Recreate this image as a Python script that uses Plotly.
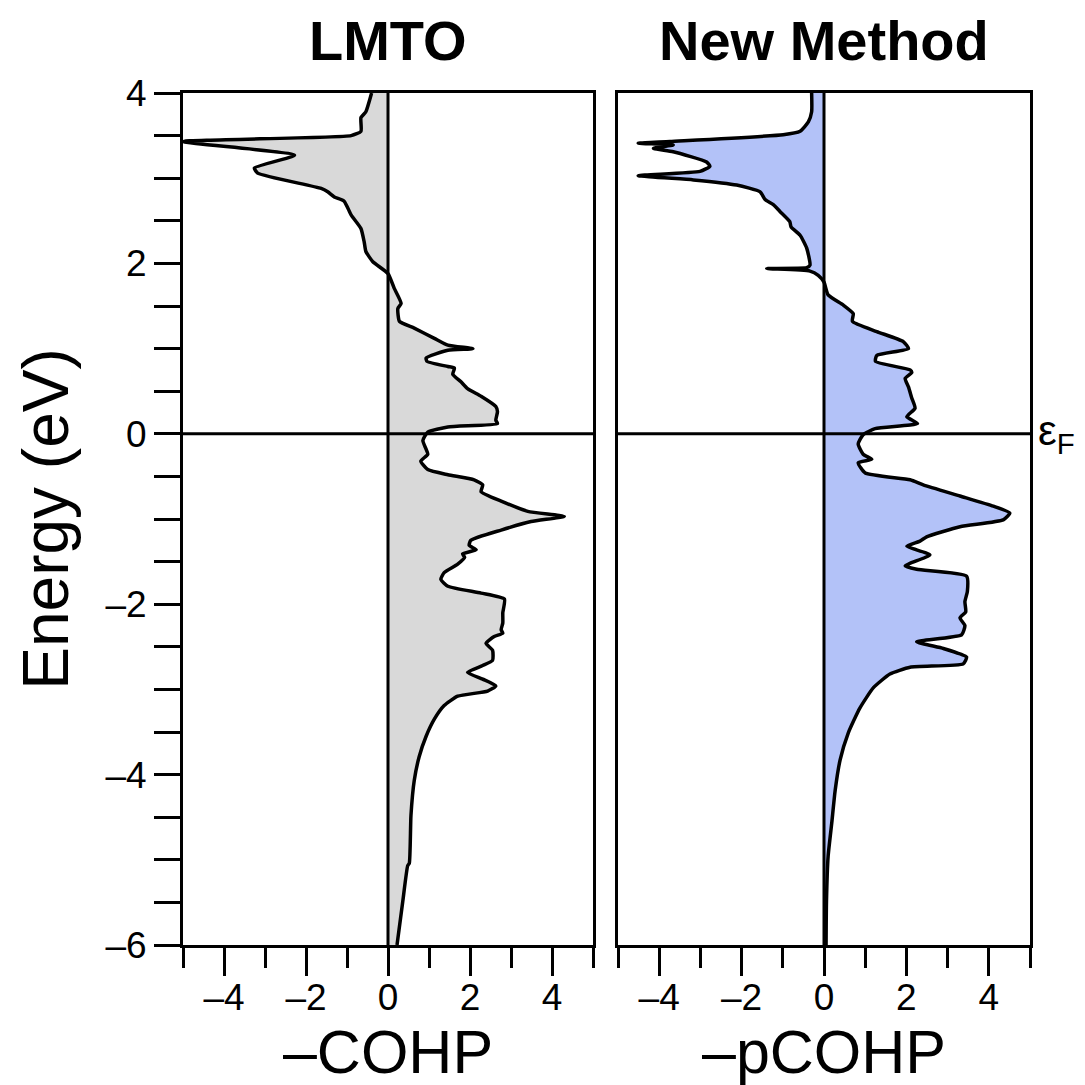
import plotly.graph_objects as go

# ---------------- data ----------------
lmto_energy = [4.00, 3.78, 3.71, 3.55, 3.50, 3.43, 3.27, 3.12, 3.06, 2.88, 2.84, 2.78, 2.73, 2.57,
               2.41, 2.25, 2.14, 2.02, 1.88, 1.71, 1.53, 1.47, 1.32, 1.24, 1.12, 1.04, 1.00, 0.98,
               0.89, 0.85, 0.79, 0.77, 0.70, 0.61, 0.53, 0.44, 0.32, 0.26, 0.16, 0.12, 0.08, 0.02,
               -0.08, -0.24, -0.32, -0.42, -0.48, -0.54, -0.60, -0.68, -0.79, -0.91, -0.97, -1.03,
               -1.13, -1.25, -1.31, -1.36, -1.41, -1.45, -1.53, -1.63, -1.71, -1.79, -1.87, -1.94,
               -2.10, -2.22, -2.30, -2.34, -2.38, -2.46, -2.54, -2.66, -2.72, -2.80, -2.88, -2.96,
               -3.02, -3.08, -3.19, -3.35, -3.55, -3.79, -4.07, -4.48, -5.04, -5.07, -5.49, -6.00]
lmto_cohp = [-0.40, -0.54, -0.66, -0.66, -0.90, -5.00, -2.28, -3.26, -3.18, -1.63, -1.47, -1.31, -1.07, -0.90,
             -0.66, -0.58, -0.54, -0.37, 0.00, 0.15, 0.32, 0.24, 0.28, 0.64, 1.13, 1.46, 2.07, 1.46,
             0.93, 0.95, 1.46, 1.62, 1.58, 1.78, 1.94, 2.27, 2.63, 2.67, 2.63, 2.67, 1.46, 0.97,
             0.85, 0.97, 0.80, 0.97, 1.46, 2.10, 2.31, 2.27, 2.76, 3.41, 4.30, 3.49,
             2.76, 2.02, 1.98, 2.15, 1.82, 1.87, 1.70, 1.37, 1.29, 1.46, 2.27, 2.84,
             2.80, 2.80, 2.76, 2.80, 2.59, 2.39, 2.55, 2.55, 2.31, 1.94, 2.31, 2.63,
             2.43, 1.70, 1.37, 1.13, 0.93, 0.76, 0.64, 0.56, 0.52, 0.48, 0.36, 0.22]

new_energy = [4.00, 3.78, 3.66, 3.55, 3.51, 3.43, 3.41, 3.39, 3.35, 3.31, 3.19, 3.14, 3.08, 3.03,
              2.98, 2.92, 2.84, 2.75, 2.69, 2.61, 2.49, 2.43, 2.33, 2.18, 1.98, 1.95, 1.94, 1.91,
              1.86, 1.78, 1.63, 1.51, 1.41, 1.32, 1.20, 1.08, 1.00, 0.92, 0.85, 0.75, 0.72, 0.65,
              0.55, 0.42, 0.30, 0.20, 0.12, 0.06, -0.01, -0.12, -0.24, -0.30, -0.34, -0.46,
              -0.54, -0.60, -0.73, -0.85, -0.93, -1.01, -1.09, -1.21, -1.26, -1.32, -1.42, -1.55,
              -1.59, -1.67, -1.85, -1.97, -2.09, -2.16, -2.25, -2.36, -2.44, -2.52, -2.62, -2.70,
              -2.74, -2.82, -2.98, -3.22, -3.51, -3.83, -4.19, -4.56, -4.96, -5.49, -6.00]
new_pcohp = [-0.30, -0.30, -0.38, -0.58, -0.99, -3.74, -4.51, -3.66, -4.14, -3.66, -2.85, -2.77, -3.01, -4.51,
             -3.17, -2.12, -1.55, -1.43, -1.23, -1.07, -0.83, -0.80, -0.58, -0.42, -0.34, -0.42, -1.39, -0.34,
             -0.14, 0.00, 0.10, 0.47, 0.71, 0.69, 1.28, 1.93, 2.05, 1.28, 1.25, 2.09, 2.13, 1.97,
             2.05, 2.13, 2.21, 2.01, 2.27, 1.24, 0.95, 0.83, 0.95, 1.16, 0.83, 1.00,
             2.09, 2.41, 3.30, 4.11, 4.51, 4.35, 3.30, 2.49, 2.33, 2.01, 2.57, 1.97,
             2.25, 3.46, 3.48, 3.42, 3.44, 3.30, 3.42, 3.34, 2.25, 2.90, 3.46, 3.38,
             2.09, 1.60, 1.20, 0.87, 0.59, 0.39, 0.27, 0.19, 0.10, 0.06, 0.05]

panel_titles = ["LMTO", "New Method"]
x_titles = ["\u2013COHP", "\u2013pCOHP"]
y_title = "Energy (eV)"
x_tickvals = [-4, -2, 0, 2, 4]
x_ticktext = ["\u20134", "\u20132", "0", "2", "4"]
x_minorvals = [-5, -3, -1, 1, 3, 5]
y_tickvals = [-6, -4, -2, 0, 2, 4]
y_ticktext = ["\u20136", "\u20134", "\u20132", "0", "2", "4"]
y_minorvals = [-5.5, -5, -4.5, -3.5, -3, -2.5, -1.5, -1, -0.5, 0.5, 1, 1.5, 2.5, 3, 3.5]
fermi_label = "\u03b5<sub>F</sub>"

# ---------------- figure ----------------
W = H = 1085
OFF = 8  # page body margin
FONT = "Liberation Sans, Arial, Helvetica, sans-serif"
gray_fill = "#d9d9d9"
blue_fill = "#b3c2f8"

def fx(px):
    return (px - OFF) / W

def fy(py):
    return 1 - (py - OFF) / H

fig = go.Figure()
fig.add_trace(go.Scatter(x=lmto_cohp, y=lmto_energy, mode="lines", fill="tozerox",
                         fillcolor=gray_fill,
                         line=dict(color="black", width=3.5, shape="spline", smoothing=0.5),
                         xaxis="x", yaxis="y", showlegend=False))
fig.add_trace(go.Scatter(x=new_pcohp, y=new_energy, mode="lines", fill="tozerox",
                         fillcolor=blue_fill,
                         line=dict(color="black", width=3.5, shape="spline", smoothing=0.5),
                         xaxis="x2", yaxis="y2", showlegend=False))

px1 = (fx(183), fx(593))
px2 = (fx(618), fx(1030))
ydom = (fy(945), fy(93))

def xaxis_cfg(domain, title):
    return dict(domain=list(domain), range=[-5, 5], showline=True, mirror=True,
                linewidth=3, linecolor="black", showgrid=False, zeroline=False,
                automargin=False,
                tickmode="array", tickvals=x_tickvals, ticktext=x_ticktext,
                ticks="outside", ticklen=28, tickwidth=3, tickcolor="black",
                ticklabelstandoff=-10,
                tickfont=dict(size=37, color="black", family=FONT),
                minor=dict(tickmode="array", tickvals=x_minorvals, ticks="outside",
                           ticklen=20, tickwidth=3, tickcolor="black", showgrid=False),
                title=dict(text=title, font=dict(size=61, color="black", family=FONT), standoff=0),
                fixedrange=True)

fig.update_layout(
    template="none",
    width=W, height=H,
    margin=dict(l=0, r=0, t=0, b=0, autoexpand=False),
    paper_bgcolor="white", plot_bgcolor="white",
    font=dict(family=FONT, color="black"),
    xaxis=xaxis_cfg(px1, x_titles[0]),
    xaxis2=dict(xaxis_cfg(px2, x_titles[1]), anchor="y2"),
    yaxis=dict(domain=list(ydom), range=[-6, 4], showline=True, mirror=True,
               linewidth=3, linecolor="black", showgrid=False, zeroline=False,
               automargin=False,
               tickmode="array", tickvals=y_tickvals, ticktext=y_ticktext,
               ticks="outside", ticklen=26, tickwidth=3, tickcolor="black",
               tickfont=dict(size=37, color="black", family=FONT),
               minor=dict(tickmode="array", tickvals=y_minorvals, ticks="outside",
                          ticklen=26, tickwidth=3, tickcolor="black", showgrid=False),
               title=dict(text=y_title, font=dict(size=64, color="black", family=FONT), standoff=17),
               anchor="x", fixedrange=True),
    yaxis2=dict(domain=list(ydom), range=[-6, 4], showline=True, mirror=True,
                linewidth=3, linecolor="black", showgrid=False, zeroline=False,
                automargin=False,
                showticklabels=False, ticks="", anchor="x2", matches="y", fixedrange=True),
)

# reference lines at zero (drawn above the fills)
for xr, yr in (("x", "y"), ("x2", "y2")):
    fig.add_shape(type="line", xref=xr, yref=yr + " domain", x0=0, x1=0, y0=0, y1=1,
                  line=dict(color="black", width=3), layer="above")
    fig.add_shape(type="line", xref=xr + " domain", yref=yr, x0=0, x1=1, y0=0, y1=0,
                  line=dict(color="black", width=3), layer="above")

# panel titles
for dom, txt in ((px1, panel_titles[0]), (px2, panel_titles[1])):
    fig.add_annotation(text="<b>" + txt + "</b>", xref="paper", yref="paper",
                       x=(dom[0] + dom[1]) / 2, y=fy(40), xanchor="center", yanchor="middle",
                       showarrow=False, font=dict(size=56, color="black", family=FONT))

# Fermi level label
fig.add_annotation(text=fermi_label, xref="paper", yref="y2", x=fx(1036), y=0,
                   xanchor="left", yanchor="middle", showarrow=False,
                   font=dict(size=42, color="black", family=FONT))

fig.write_html("out.html")
